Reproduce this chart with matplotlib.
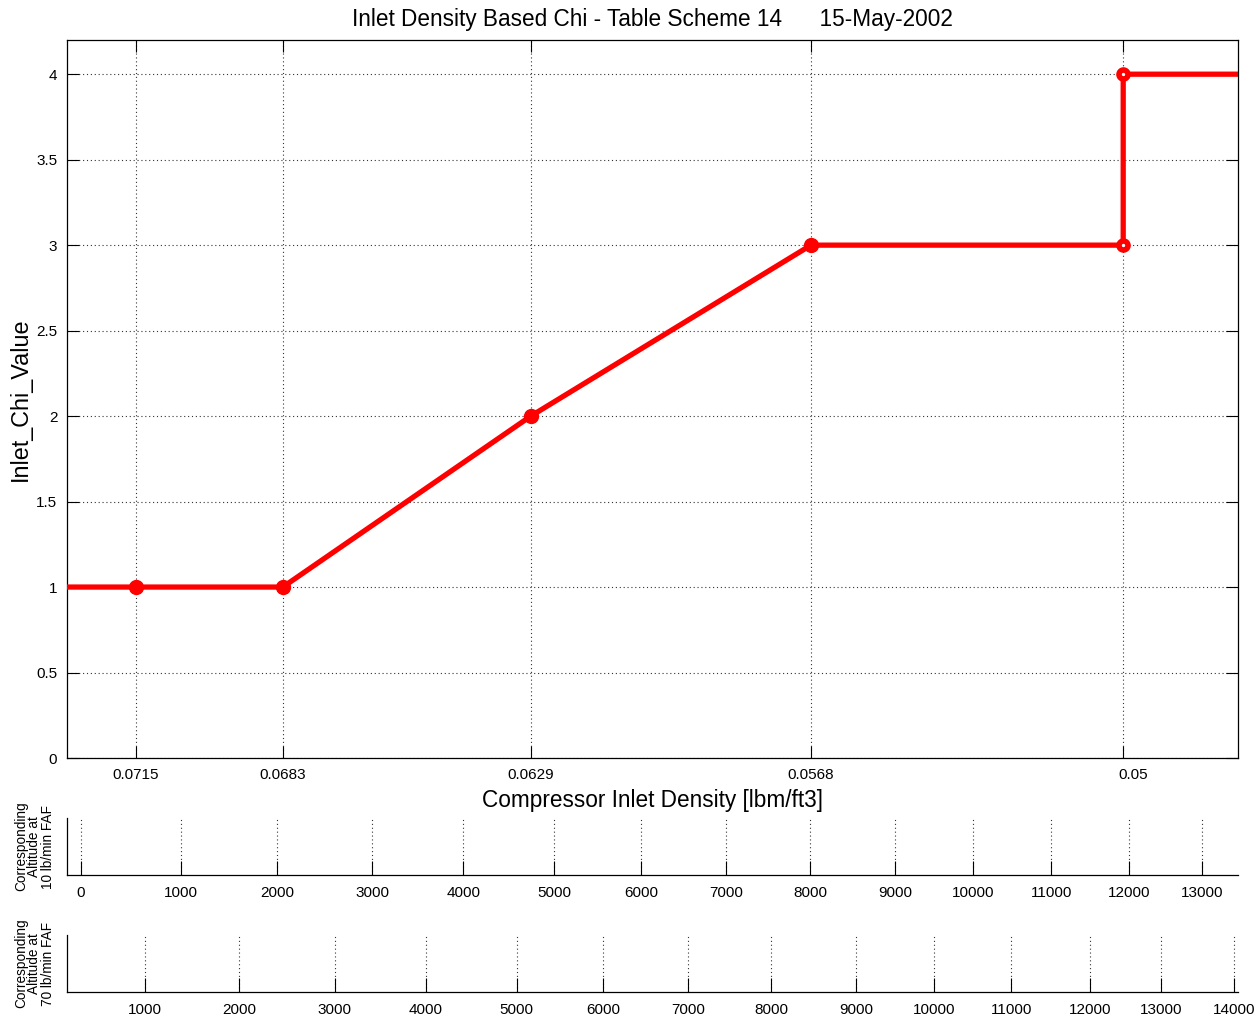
import matplotlib.pyplot as plt
import matplotlib.transforms as mtransforms

plt.rcParams['font.family'] = ['Liberation Sans', 'DejaVu Sans']

# Main curve: inlet density [lbm/ft3] vs chi value
densidade = [0.0730, 0.0715, 0.0683, 0.0629, 0.0568, 0.05, 0.05, 0.0475]
chi = [1, 1, 1, 2, 3, 3, 4, 4]

# Breakpoints (filled) and step points (open)
dens_pts = [0.0715, 0.0683, 0.0629, 0.0568]
chi_pts = [1, 1, 2, 3]
dens_step = [0.05, 0.05]
chi_step = [3, 4]

xticks_dens = [0.0715, 0.0683, 0.0629, 0.0568, 0.05]
xtick_labels = ['0.0715', '0.0683', '0.0629', '0.0568', '0.05']
yticks = [0, 0.5, 1, 1.5, 2, 2.5, 3, 3.5, 4]

# Altitude scales: density position of each altitude tick
alt10 = [0, 1000, 2000, 3000, 4000, 5000, 6000, 7000, 8000, 9000,
         10000, 11000, 12000, 13000]
dens_alt10 = [0.07270, 0.07052, 0.06843, 0.06635, 0.06437, 0.06239, 0.06050,
              0.05864, 0.05681, 0.05497, 0.05326, 0.05157, 0.04987, 0.04829]
alt70 = [1000, 2000, 3000, 4000, 5000, 6000, 7000, 8000, 9000,
         10000, 11000, 12000, 13000, 14000]
dens_alt70 = [0.07131, 0.06925, 0.06717, 0.06519, 0.06321, 0.06132, 0.05948,
              0.05767, 0.05581, 0.05412, 0.05244, 0.05073, 0.04917, 0.04759]

xlim = (0.0730, 0.0475)
grade = dict(color='#333333', linestyle=(0, (1, 2.5)), linewidth=0.8)

fig = plt.figure(figsize=(12.6, 10.21), dpi=100)

# ---- main axes
ax = fig.add_axes([67/1260, 1 - 758/1021, 1171/1260, 718/1021])
ax.plot(densidade, chi, color='red', lw=3.8, solid_joinstyle='round', zorder=3)
ax.plot(dens_pts, chi_pts, 'o', color='red', ms=10, zorder=4)
ax.plot(dens_step, chi_step, 'o', color='red', mfc='white', mec='red',
        ms=6.5, mew=4, zorder=4)
ax.set_xlim(xlim)
ax.set_ylim(0, 4.2)
ax.set_xticks(xticks_dens)
ax.set_xticklabels(xtick_labels)
ax.set_yticks(yticks)
ax.set_yticklabels(['0', '0.5', '1', '1.5', '2', '2.5', '3', '3.5', '4'])
ax.grid(True, **grade)
ax.tick_params(direction='in', length=8.5, width=0.8, top=True, right=True,
               labelsize=11, pad=7)
for s in ax.spines.values():
    s.set_linewidth(0.9)
# MATLAB puts the 0.05 label a little to the right
lab = ax.get_xticklabels()[-1]
lab.set_transform(lab.get_transform() + mtransforms.ScaledTranslation(10/100, 0, fig.dpi_scale_trans))

ax.set_title('Inlet Density Based Chi - Table Scheme 14      15-May-2002',
             fontsize=16.3, pad=10)
ax.set_xlabel('Compressor Inlet Density [lbm/ft3]', fontsize=16.3, labelpad=5)
ax.set_ylabel('Inlet_Chi_Value', fontsize=16.8, labelpad=3)

# ---- altitude axes
def altitude_axis(bottom_px, ticks, labels, texto):
    a = fig.add_axes([67/1260, 1 - bottom_px/1021, 1171/1260, 57/1021])
    a.set_xlim(xlim)
    a.set_ylim(0, 1)
    a.set_yticks([])
    a.set_xticks(ticks)
    a.set_xticklabels([str(v) for v in labels])
    a.spines['top'].set_visible(False)
    a.spines['right'].set_visible(False)
    a.spines['left'].set_linewidth(0.9)
    a.spines['bottom'].set_linewidth(0.9)
    a.grid(True, axis='x', **grade)
    a.tick_params(axis='x', direction='in', length=10, width=0.8,
                  labelsize=11, pad=8)
    a.text(-0.028, 0.5, texto, transform=a.transAxes, rotation=90,
           ha='center', va='center', fontsize=9.8, linespacing=0.95)
    return a

altitude_axis(875, dens_alt10, alt10, 'Corresponding\nAltitude at\n10 lb/min FAF')
altitude_axis(992, dens_alt70, alt70, 'Corresponding\nAltitude at\n70 lb/min FAF')

fig.savefig('out.png', dpi=100)
